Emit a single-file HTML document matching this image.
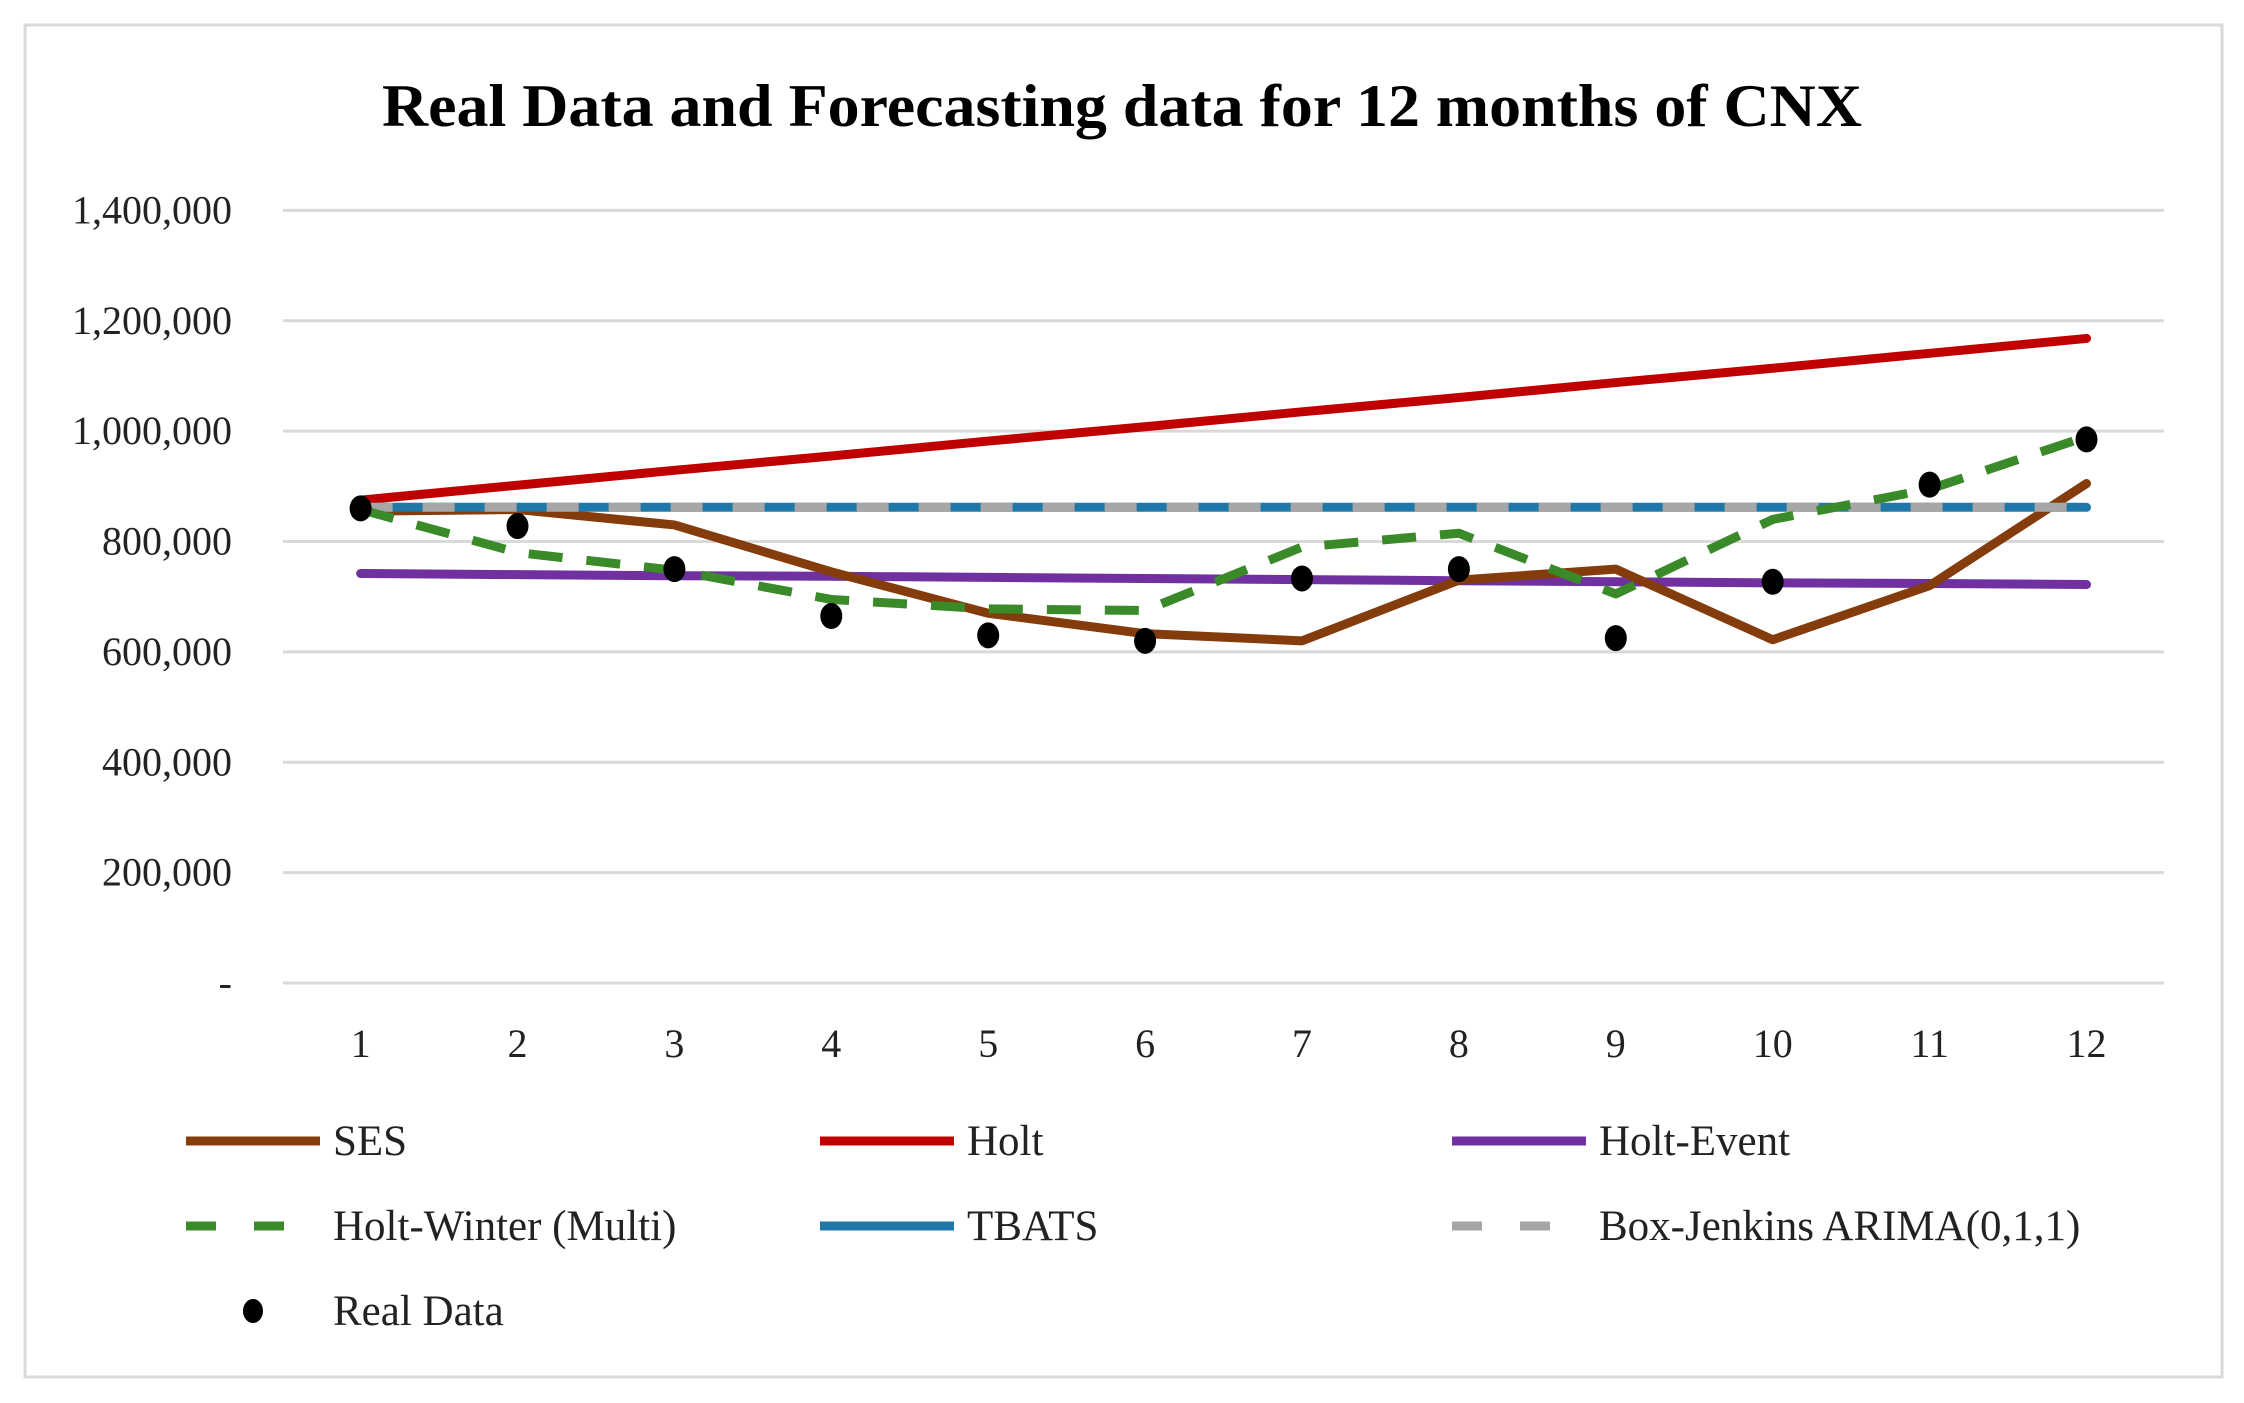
<!DOCTYPE html>
<html><head><meta charset="utf-8"><style>
html,body{margin:0;padding:0;background:#fff}
svg{display:block}
text{font-family:"Liberation Serif",serif}
</style></head><body>
<svg id="chart" width="2244" height="1403" viewBox="0 0 2244 1403" xmlns="http://www.w3.org/2000/svg">
<rect x="25" y="25" width="2197" height="1352" fill="#fff" stroke="#d9d9d9" stroke-width="3"/>
<text x="1122" y="126" text-anchor="middle" font-size="60" font-weight="bold" fill="#000" textLength="1480" lengthAdjust="spacingAndGlyphs">Real Data and Forecasting data for 12 months of CNX</text>
<g id="grid"></g><g id="series"></g><g id="legend"></g>
</svg>
<script>
const months=[1,2,3,4,5,6,7,8,9,10,11,12];
const yTicks=[0,200000,400000,600000,800000,1000000,1200000,1400000];
const yTickLabels=["-","200,000","400,000","600,000","800,000","1,000,000","1,200,000","1,400,000"];
const ses=[855000,858000,830000,745000,670000,633000,620000,730000,750000,622000,720000,905000];
const holt=[875000,902000,929000,955000,982000,1008000,1035000,1061000,1088000,1114000,1141000,1168000];
const holtEvent=[742000,740000,738000,737000,735000,733000,731000,729000,727000,725000,724000,722000];
const holtWinter=[858000,780000,748000,695000,678000,675000,790000,815000,705000,840000,895000,990000];
const tbats=[862000,862000,862000,862000,862000,862000,862000,862000,862000,862000,862000,862000];
const arima=[862000,862000,862000,862000,862000,862000,862000,862000,862000,862000,862000,862000];
const realData=[860000,828000,750000,665000,630000,620000,733000,750000,625000,727000,903000,985000];
const NS="http://www.w3.org/2000/svg";
const X=m=>360.6+(m-1)*(2086.5-360.6)/11;
const Y=v=>983-v/1400000*(983-210.4);
function mk(tag,attrs,parent){const e=document.createElementNS(NS,tag);for(const k in attrs)e.setAttribute(k,attrs[k]);parent.appendChild(e);return e;}
const grid=document.getElementById('grid');
yTicks.forEach((t,i)=>{
  const l=mk('line',{x1:283,x2:2164,y1:Y(t),y2:Y(t),stroke:'#d9d9d9','stroke-width':3},grid);
  
  
  const tx=mk('text',{x:232,y:Y(t)+13,'text-anchor':'end','font-size':40,fill:'#222'},grid);
  tx.textContent=yTickLabels[i];
  
  
});
months.forEach(m=>{
  const tx=mk('text',{x:X(m),y:1057,'text-anchor':'middle','font-size':40,fill:'#222'},grid);
  tx.textContent=m;
  
  
});
const sg=document.getElementById('series');
function line(data,color,dash,name){
  const p=mk('polyline',{points:data.map((v,i)=>X(months[i])+','+Y(v)).join(' '),fill:'none',stroke:color,'stroke-width':9,'stroke-linejoin':'round','stroke-linecap':dash?'butt':'round'},sg);
  if(dash)p.setAttribute('stroke-dasharray',dash);
  
  
}
line(holtEvent,'#7030a0',null,'holt-event-line');
line(ses,'#843c0c',null,'ses-line');
line(holt,'#c00000',null,'holt-line');
line(tbats,'#1f78a8',null,'tbats-line');
line(arima,'#a6a6a6','32 30','arima-line');
line(holtWinter,'#3a8a2a','34 24','holt-winter-line');
realData.forEach((v,i)=>{
  const c=mk('ellipse',{cx:X(months[i]),cy:Y(v),rx:11,ry:13,fill:'#000'},sg);
  
  
});
const lg=document.getElementById('legend');
const items=[
 ['SES','#843c0c',null,186,1141],['Holt','#c00000',null,820,1141],['Holt-Event','#7030a0',null,1452,1141],
 ['Holt-Winter (Multi)','#3a8a2a','30 38',186,1226],['TBATS','#1f78a8',null,820,1226],['Box-Jenkins ARIMA(0,1,1)','#a6a6a6','30 38',1452,1226]];
items.forEach(it=>{
  const g=mk('g',{},lg);
  
  
  const l=mk('line',{x1:it[3],x2:it[3]+134,y1:it[4],y2:it[4],stroke:it[1],'stroke-width':9},g);
  if(it[2])l.setAttribute('stroke-dasharray',it[2]);
  const t=mk('text',{x:it[3]+147,y:it[4]+14,'font-size':43,fill:'#222'},g);
  t.textContent=it[0];
});
const g2=mk('g',{},lg);


mk('ellipse',{cx:253,cy:1311,rx:10,ry:12,fill:'#000'},g2);
const t2=mk('text',{x:333,y:1325,'font-size':43,fill:'#222'},g2);
t2.textContent='Real Data';
</script>
</body></html>
